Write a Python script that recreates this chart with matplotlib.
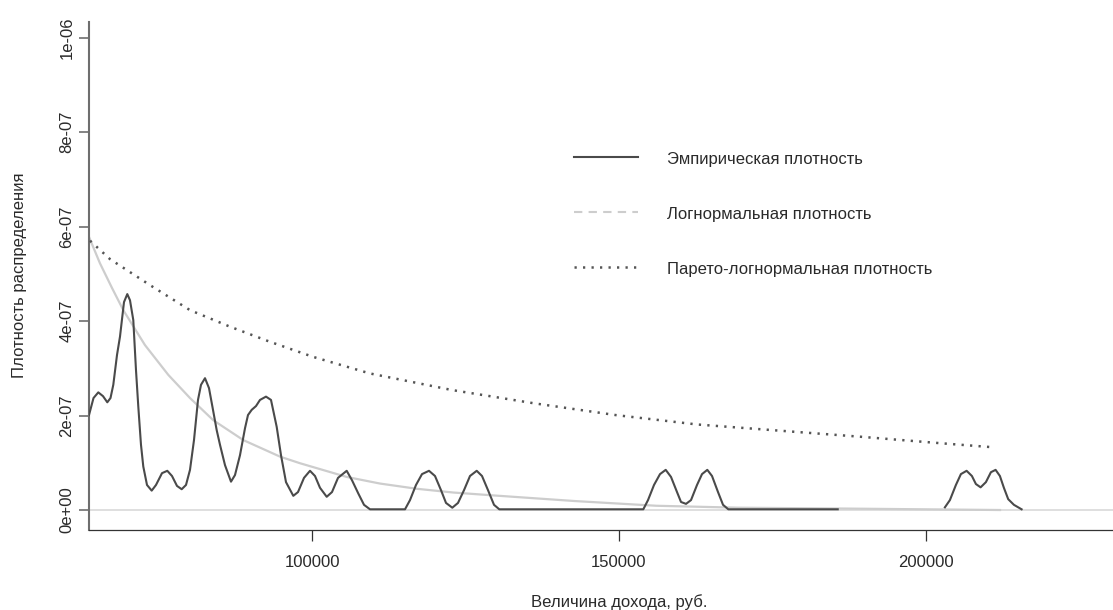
import numpy as np
import matplotlib
matplotlib.use("Agg")
import matplotlib.pyplot as plt
from matplotlib.lines import Line2D

plt.rcParams['font.family'] = ['Liberation Sans', 'DejaVu Sans']

# ---- data ----
nan = float('nan')
emp_x = [63596, 64330, 65111, 65878, 66579, 67101, 67557, 68160, 68649, 69301, 69839, 70279,
         70817, 71257, 71632, 72072, 72447, 73051, 73817, 74518, 75497, 76361, 77127, 77942,
         78708, 79409, 80061, 80713, 81366, 81855, 82507, 83159, 83811, 84414, 84952, 85767,
         86745, 87397, 88212, 89027, 89516, 90120, 90821, 91473, 92451, 93266, 94196, 94897,
         95712, 96902, 97669, 98647, 99625, 100440, 101255, 102348, 103212, 104190, 105608,
         106472, 107499, 108429, 109407, 115113, 115928, 116906, 117885, 119026, 120004,
         120982, 121797, 122824, 123754, 124732, 125710, 126803, 127667, 128645, 129623,
         130487, 153964, 154730, 155708, 156686, 157616, 158480, 159458, 160110, 160925,
         161741, 162719, 163534, 164398, 165164, 166143, 166958, 167822, 185658,
         nan,
         203132, 203947, 204925, 205740, 206670, 207534, 208186, 208952, 209816, 210631,
         211397, 212098, 212750, 213451, 214381, 215636]
emp_y = [2.01e-7, 2.37e-7, 2.49e-7, 2.41e-7, 2.28e-7, 2.37e-7, 2.65e-7, 3.28e-7, 3.67e-7, 4.40e-7,
         4.57e-7, 4.44e-7, 4.02e-7, 2.96e-7, 2.19e-7, 1.38e-7, 9.2e-8, 5.3e-8, 4.1e-8, 5.3e-8,
         7.8e-8, 8.3e-8, 7.2e-8, 5.1e-8, 4.4e-8, 5.3e-8, 8.5e-8, 1.48e-7, 2.33e-7, 2.65e-7,
         2.79e-7, 2.58e-7, 2.12e-7, 1.69e-7, 1.38e-7, 9.5e-8, 6.0e-8, 7.4e-8, 1.16e-7, 1.73e-7,
         2.01e-7, 2.12e-7, 2.20e-7, 2.33e-7, 2.40e-7, 2.33e-7, 1.76e-7, 1.16e-7, 5.9e-8, 3.0e-8,
         3.8e-8, 6.8e-8, 8.3e-8, 7.2e-8, 4.7e-8, 2.8e-8, 3.8e-8, 6.8e-8, 8.3e-8, 6.3e-8, 3.5e-8,
         1.1e-8, 1.5e-9, 1.5e-9, 2.1e-8, 5.3e-8, 7.6e-8, 8.3e-8, 7.2e-8, 4.2e-8, 1.5e-8, 4.9e-9,
         1.5e-8, 4.2e-8, 7.2e-8, 8.3e-8, 7.2e-8, 4.2e-8, 1.1e-8, 1.5e-9, 1.5e-9, 2.1e-8, 5.3e-8,
         7.6e-8, 8.5e-8, 7.0e-8, 3.8e-8, 1.7e-8, 1.3e-8, 2.1e-8, 5.3e-8, 7.6e-8, 8.5e-8, 7.2e-8,
         3.8e-8, 1.1e-8, 1.5e-9, 1.5e-9,
         nan,
         5.7e-9, 2.1e-8, 5.3e-8, 7.6e-8, 8.3e-8, 7.2e-8, 5.5e-8, 4.8e-8, 5.9e-8, 8.0e-8, 8.5e-8,
         7.2e-8, 4.7e-8, 2.3e-8, 1.1e-8, 1.5e-9]

lognorm_x = [63596, 65389, 67345, 69188, 72725, 76524, 80062, 83860, 88751, 94734, 97995,
             105608, 111037, 117000, 123000, 129410, 142762, 156097, 169400, 185655, 212117]
lognorm_y = [5.78e-7, 5.22e-7, 4.70e-7, 4.23e-7, 3.49e-7, 2.86e-7, 2.37e-7, 1.90e-7, 1.48e-7,
             1.13e-7, 9.9e-8, 7.0e-8, 5.6e-8, 4.5e-8, 3.7e-8, 3.1e-8, 1.9e-8, 9.0e-9, 4.9e-9,
             3.2e-9, 0.0]

pareto_x = [63759, 67020, 73541, 80062, 86583, 93104, 100163, 109407, 122743, 136078,
            149430, 162767, 176119, 189455, 202791, 210796]
pareto_y = [5.70e-7, 5.31e-7, 4.76e-7, 4.23e-7, 3.88e-7, 3.56e-7, 3.24e-7, 2.89e-7, 2.54e-7,
            2.26e-7, 2.01e-7, 1.81e-7, 1.68e-7, 1.55e-7, 1.41e-7, 1.33e-7]

x_ticks = [100000, 150000, 200000]
x_ticklabels = ['100000', '150000', '200000']
y_ticks = [0, 2e-7, 4e-7, 6e-7, 8e-7, 1e-6]
y_ticklabels = ['0e+00', '2e-07', '4e-07', '6e-07', '8e-07', '1e-06']

legend_labels = ['Эмпирическая плотность', 'Логнормальная плотность',
                 'Парето-логнормальная плотность']
xlabel = 'Величина дохода, руб.'
ylabel = 'Плотность распределения'

# ---- figure ----
W, H = 1113, 610
fig = plt.figure(figsize=(W / 100, H / 100), dpi=100)
ax_left, ax_right, ax_top, ax_bot = 89, 1149, 21.7, 530
ax = fig.add_axes([ax_left / W, (H - ax_bot) / H, (ax_right - ax_left) / W, (ax_bot - ax_top) / H])
ax.set_xlim(63596, 236405)
ax.set_ylim(-4.23e-8, 1.0335e-6)

dark = '#4a4a4a'
light = '#cdcdcd'
dotc = '#555555'

ax.axhline(0, color='#d6d6d6', lw=1.1, zorder=1)
ax.plot(lognorm_x, lognorm_y, color=light, lw=1.6, zorder=2)
ax.plot(pareto_x, pareto_y, color=dotc, lw=1.8, linestyle=(0, (0.9, 2.5)), zorder=3)
ax.plot(emp_x, emp_y, color=dark, lw=1.5, zorder=4)

for s in ['top', 'right']:
    ax.spines[s].set_visible(False)
ax.spines['left'].set_color('#6e6e6e')
ax.spines['left'].set_linewidth(1.5)
ax.spines['bottom'].set_color('#333333')
ax.spines['bottom'].set_linewidth(0.9)

ax.set_xticks(x_ticks)
ax.set_xticklabels(x_ticklabels)
ax.set_yticks(y_ticks)
ax.set_yticklabels(y_ticklabels, rotation=90, va='center')
ax.tick_params(axis='x', length=7.7, width=0.9, color='#333333', pad=10, labelsize=12,
               labelcolor='#2a2a2a')
ax.tick_params(axis='y', length=7.5, width=1.2, color='#6e6e6e', pad=3, labelsize=12,
               labelcolor='#2a2a2a')

fig.text(619 / W, 1 - 602 / H, xlabel, ha='center', va='center', fontsize=12, color='#2a2a2a')
fig.text(20 / W, 1 - 275 / H, ylabel, ha='center', va='center', rotation=90, fontsize=12,
         color='#2a2a2a')

# ---- legend (drawn manually, no box) ----
leg_styles = [dict(color=dark, lw=1.5, linestyle='-'),
              dict(color=light, lw=1.5, linestyle=(0, (4, 3))),
              dict(color=dotc, lw=1.8, linestyle=(0, (0.9, 2.5)))]
leg_y = [157.3, 211.5, 266.5]
for lab, st, yy in zip(legend_labels, leg_styles, leg_y):
    fig.add_artist(Line2D([574 / W, 638 / W], [1 - yy / H, 1 - yy / H],
                          transform=fig.transFigure, **st))
    fig.text(667 / W, 1 - (yy + 2.5) / H, lab, ha='left', va='center', fontsize=12,
             color='#2a2a2a')

fig.savefig('out.png', dpi=100)
